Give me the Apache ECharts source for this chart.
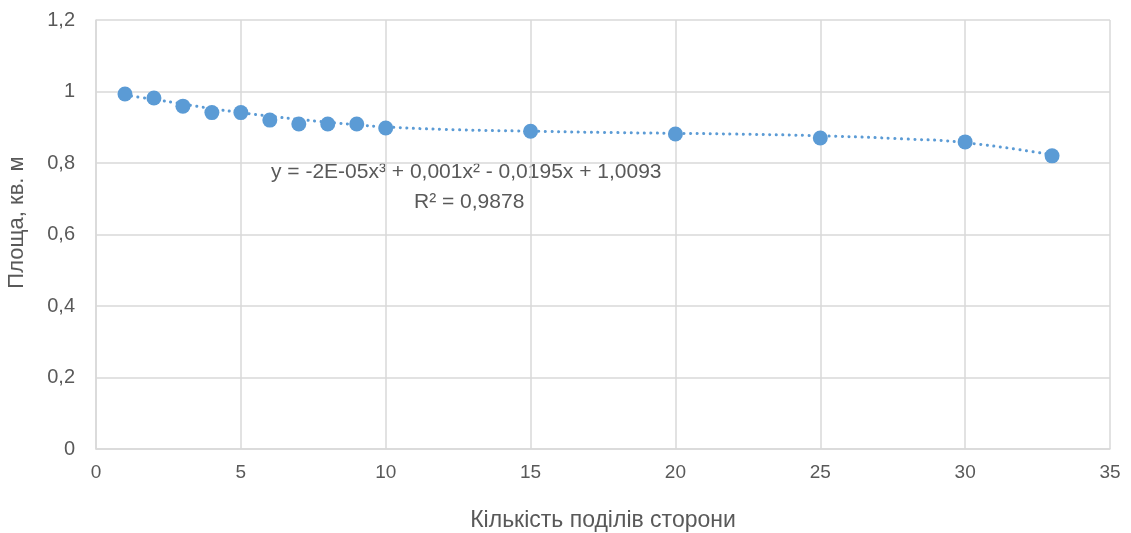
<!DOCTYPE html>
<html>
<head>
<meta charset="utf-8">
<script src="https://cdn.jsdelivr.net/npm/echarts@6/dist/echarts.min.js"></script>
<style>
    html, body { margin: 0; padding: 0; background: #fff; }
    #chart { width: 1131px; height: 533px; }
</style>
</head>
<body>
<div id="chart"></div>
<script>
// кількість поділів сторони
const divisions = [1, 2, 3, 4, 5, 6, 7, 8, 9, 10, 15, 20, 25, 30, 33];
// площа, кв. м
const areas = [0.993, 0.982, 0.959, 0.941, 0.941, 0.92, 0.909, 0.909, 0.909, 0.898, 0.889, 0.881, 0.87, 0.859, 0.82];

// лінія тренду
const trendX = [1, 2, 3, 4, 5, 6, 7, 8, 9, 10, 12, 15, 18, 20, 22, 25, 28, 30, 33];
const trendY = [0.99, 0.978, 0.965, 0.952, 0.941, 0.931, 0.922, 0.914, 0.907, 0.901, 0.894, 0.889, 0.885, 0.883, 0.881, 0.876, 0.867, 0.857, 0.823];

const equationText = 'y = -2E-05x³ + 0,001x² - 0,0195x + 1,0093';
const r2Text = 'R² = 0,9878';

const blue = '#5B9BD5';
const textColor = '#595959';
const gridColor = '#D9D9D9';
const font = '"Liberation Sans", Arial, sans-serif';

const chart = echarts.init(document.getElementById('chart'));

const option = {
    animation: false,
    textStyle: { fontFamily: font },
    grid: {
        left: 96,
        right: 21,
        top: 20,
        bottom: 84,
        containLabel: false,
        outerBoundsMode: 'none'
    },
    xAxis: {
        type: 'value',
        min: 0,
        max: 35,
        interval: 5,
        name: 'Кількість поділів сторони',
        nameLocation: 'middle',
        nameGap: 60,
        nameTextStyle: { color: textColor, fontSize: 23, fontFamily: font },
        axisLine: { show: true, lineStyle: { color: gridColor, width: 1.5 } },
        axisTick: { show: false },
        axisLabel: { color: textColor, fontSize: 19, margin: 14 },
        splitLine: { show: true, lineStyle: { color: gridColor, width: 1.5 } }
    },
    yAxis: {
        type: 'value',
        min: 0,
        max: 1.2,
        interval: 0.2,
        name: 'Площа, кв. м',
        nameLocation: 'middle',
        nameGap: 68,
        nameTextStyle: { color: textColor, fontSize: 22, fontFamily: font, padding: [0, 0, 0, 24] },
        axisLine: { show: true, lineStyle: { color: gridColor, width: 1.5 } },
        axisTick: { show: false },
        axisLabel: {
            color: textColor,
            fontSize: 20,
            margin: 21,
            formatter: v => String(Math.round(v * 10) / 10).replace('.', ',')
        },
        splitLine: { show: true, lineStyle: { color: gridColor, width: 1.5 } }
    },
    series: [
        {
            type: 'line',
            data: trendX.map((x, i) => [x, trendY[i]]),
            smooth: true,
            showSymbol: false,
            lineStyle: { color: blue, width: 3, type: [0.1, 6.5], cap: 'round' },
            z: 2
        },
        {
            type: 'scatter',
            data: divisions.map((x, i) => [x, areas[i]]),
            symbolSize: 15,
            itemStyle: { color: blue, opacity: 1 },
            z: 3
        }
    ],
    graphic: [
        {
            type: 'text',
            left: 271,
            top: 162,
            style: { text: equationText, fill: textColor, font: '21px ' + font }
        },
        {
            type: 'text',
            left: 414,
            top: 192,
            style: { text: r2Text, fill: textColor, font: '21px ' + font }
        }
    ]
};

chart.setOption(option);
</script>
</body>
</html>
